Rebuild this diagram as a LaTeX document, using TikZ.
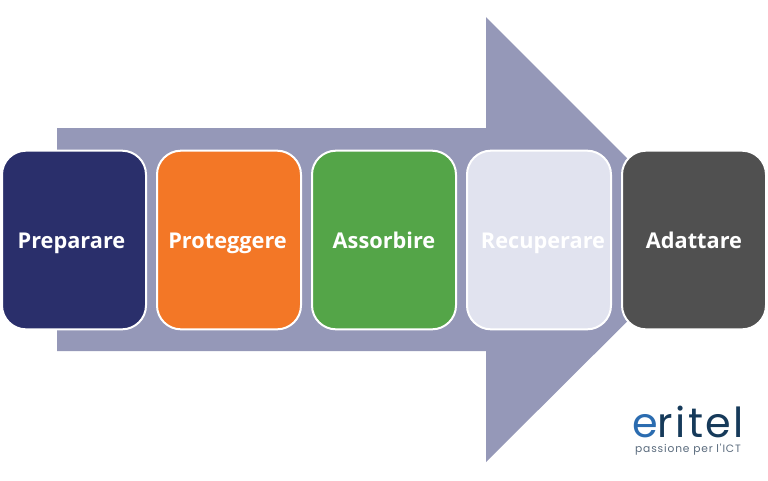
\documentclass[tikz,border=0pt]{standalone}
\usepackage{fontspec}
\setmainfont{Open Sans}
\newfontfamily\logofont[LetterSpace=6]{Poppins}
\newfontfamily\tagfont[LetterSpace=8]{Poppins}
\definecolor{arrowc}{HTML}{9598B8}
\definecolor{navy}{HTML}{2A2F6B}
\definecolor{orangec}{HTML}{F37726}
\definecolor{greenc}{HTML}{54A548}
\definecolor{palec}{HTML}{E1E3EF}
\definecolor{darkc}{HTML}{505050}
\definecolor{logoblue}{HTML}{2B6CB0}
\definecolor{logonavy}{HTML}{163A5A}
\definecolor{logogray}{HTML}{5A6B7D}
\tikzset{
  phase/.style={draw=white,line width=1.5pt,rounded corners=18pt,minimum width=108pt,minimum height=134pt,inner sep=0pt,text=white,text height=14pt,text depth=1.5pt,font=\bfseries\fontsize{16.3}{18}\selectfont}
}
\begin{document}
\begin{tikzpicture}[x=0.75pt,y=-0.75pt]
\useasboundingbox (0,0) rectangle (768,480);
\fill[white] (0,0) rectangle (768,480);
\fill[arrowc] (57,128) -- (486,128) -- (486,17) -- (709,240) -- (486,462) -- (486,351) -- (57,351) -- cycle;
\node[phase,fill=navy] (a) at (74,240) {Preparare\kern3.8pt\null};
\node[phase,fill=orangec] (b) at (229,240) {Proteggere\kern2.2pt\null};
\node[phase,fill=greenc] (c) at (384,240) {Assorbire};
\node[phase,fill=palec] (d) at (539,240) {\hspace{6pt}Recuperare};
\node[phase,fill=darkc] (e) at (694,240) {Adattare};
\node[anchor=base,inner sep=0pt,font=\logofont\fontsize{31}{32}\selectfont,text=logonavy] (logo) at (688,437) {\textcolor{logoblue}{e}ritel};
\node[anchor=base,inner sep=0pt,font=\tagfont\fontsize{8}{9}\selectfont,text=logogray] (tag) at (688,452) {passione per l'ICT};
\end{tikzpicture}
\end{document}
